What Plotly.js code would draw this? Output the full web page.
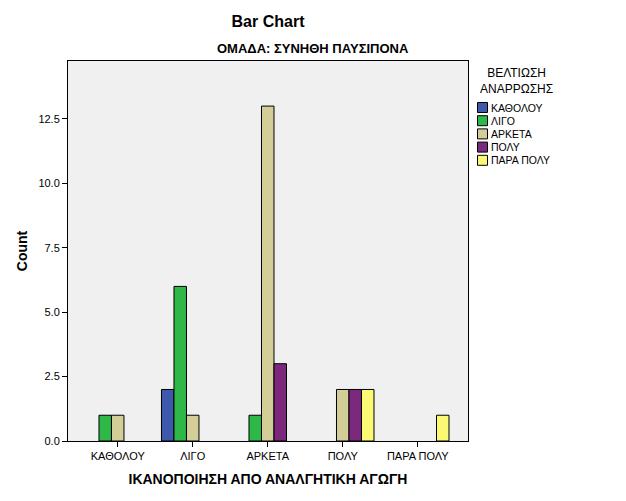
<!DOCTYPE html>
<html><head><meta charset="utf-8">
<script src="https://cdn.plot.ly/plotly-3.0.1.min.js"></script>
<style>body{margin:0;background:#fff}</style>
</head><body><div id="chart" style="width:626px;height:501px"></div>
<script>
const categories = ["ΚΑΘΟΛΟΥ", "ΛΙΓΟ", "ΑΡΚΕΤΑ", "ΠΟΛΥ", "ΠΑΡΑ ΠΟΛΥ"];
const seriesNames = ["ΚΑΘΟΛΟΥ", "ΛΙΓΟ", "ΑΡΚΕΤΑ", "ΠΟΛΥ", "ΠΑΡΑ ΠΟΛΥ"];
const seriesColors = ["#3E58AC", "#2EB848", "#D3CE97", "#7C287D", "#FBF873"];
const valKatholou = [null, 2, null, null, null];
const valLigo = [1, 6, 1, null, null];
const valArketa = [1, 1, 13, 2, null];
const valPoly = [null, null, 3, 2, null];
const valParaPoly = [null, null, null, 2, 1];
const seriesValues = [valKatholou, valLigo, valArketa, valPoly, valParaPoly];

const W = 626, H = 501, L = 68, R = 468, T = 61, B = 441;
const px = x => (x - L) / (R - L);
const py = y => (B - y) / (B - T);

const traces = seriesNames.map((n, i) => ({
  type: 'bar', name: n, x: categories, y: seriesValues[i],
  marker: {color: seriesColors[i], line: {color: '#000', width: 1}},
  showlegend: false
}));

const shapes = [], annotations = [];
annotations.push({xref: 'paper', yref: 'paper', x: px(313), y: py(49), text: '<b>ΟΜΑΔΑ: ΣΥΝΗΘΗ ΠΑΥΣΙΠΟΝΑ</b>',
  showarrow: false, font: {family: 'Liberation Sans Narrow, Liberation Sans', size: 13, color: '#000'}, xanchor: 'center', yanchor: 'middle'});
annotations.push({xref: 'paper', yref: 'paper', x: px(516), y: py(81), text: 'ΒΕΛΤΙΩΣΗ<br>ΑΝΑΡΡΩΣΗΣ', align: 'center',
  showarrow: false, font: {family: 'Liberation Sans', size: 12, color: '#000'}, xanchor: 'center', yanchor: 'middle'});
seriesNames.forEach((n, i) => {
  const cy = 107.5 + 13.2 * i;
  shapes.push({type: 'rect', xref: 'paper', yref: 'paper', x0: px(477.5), x1: px(487.5), y0: py(cy - 5), y1: py(cy + 5),
    fillcolor: seriesColors[i], line: {color: '#000', width: 1}});
  annotations.push({xref: 'paper', yref: 'paper', x: px(489), y: py(cy), text: n, showarrow: false,
    font: {family: 'Liberation Sans', size: 10.5, color: '#000'}, xanchor: 'left', yanchor: 'middle'});
});

const layout = {
  width: W, height: H,
  margin: {l: L, r: W - R, t: T, b: H - B, pad: 0},
  paper_bgcolor: '#fff', plot_bgcolor: '#F0F0F0',
  font: {family: 'Liberation Sans', color: '#000'},
  title: {text: '<b>Bar Chart</b>', x: 0.5, xref: 'paper', xanchor: 'center', y: 1 - 21 / H, yref: 'container', yanchor: 'middle',
    font: {family: 'Liberation Sans', size: 16, color: '#000'}},
  barmode: 'group', bargap: 0.1667, bargroupgap: 0,
  xaxis: {type: 'category', range: [-0.663, 4.67], showline: true, mirror: true, linecolor: '#000', linewidth: 1,
    ticks: 'outside', ticklen: 5, tickcolor: '#000', showgrid: false, zeroline: false,
    tickfont: {family: 'Liberation Sans', size: 11, color: '#000'},
    title: {text: '<b>ΙΚΑΝΟΠΟΙΗΣΗ ΑΠΟ ΑΝΑΛΓΗΤΙΚΗ ΑΓΩΓΗ</b>', standoff: 12, font: {family: 'Liberation Sans', size: 14, color: '#000'}}},
  yaxis: {range: [0, 14.75], dtick: 2.5, tick0: 0, tickformat: '.1f', showline: true, mirror: true, linecolor: '#000', linewidth: 1,
    ticks: 'outside', ticklen: 5, tickcolor: '#000', showgrid: false, zeroline: false,
    tickfont: {family: 'Liberation Sans', size: 11, color: '#000'},
    title: {text: '<b>Count</b>', standoff: 7, font: {family: 'Liberation Sans', size: 14, color: '#000'}}},
  shapes: shapes, annotations: annotations, showlegend: false
};
Plotly.newPlot('chart', traces, layout, {displayModeBar: false, staticPlot: true});
</script></body></html>
